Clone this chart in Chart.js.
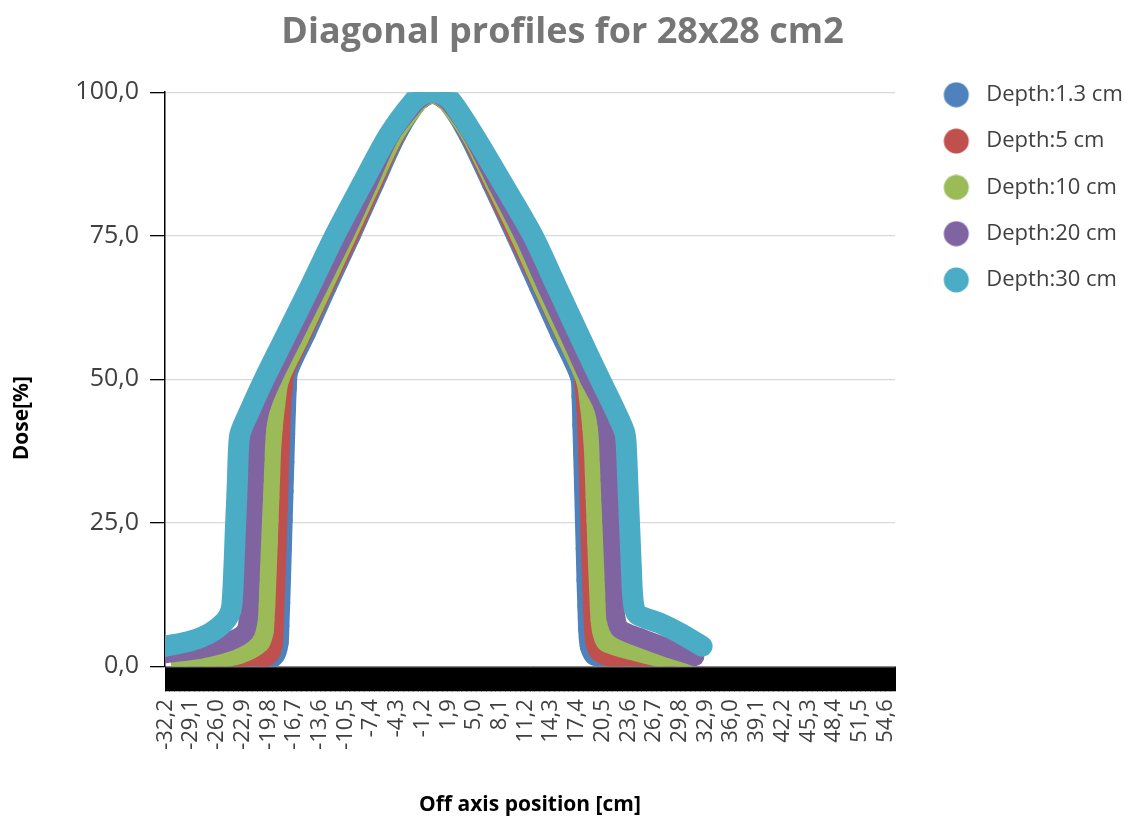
<!DOCTYPE html>
<html>
<head>
<meta charset="utf-8">
<title>Diagonal profiles for 28x28 cm2</title>
<script src="https://cdn.jsdelivr.net/npm/chart.js@4.4.1/dist/chart.umd.min.js"></script>
<style>
html, body { margin: 0; padding: 0; background: #ffffff; }
#wrap { position: relative; width: 1125px; height: 816px; }
</style>
</head>
<body>
<div id="wrap"><canvas id="chart" width="1125" height="816"></canvas></div>
<script>
// ---- Category axis: off-axis positions, -32.2 cm ... 55.7 cm in 0.1 cm steps
const firstTenth = -322;
const lastTenth = 557;
const tickLabelEvery = 31;           // one visible label every 3.1 cm
const doseTicks = [0, 25, 50, 75, 100];

// ---- Series (position in cm, dose in %)
const depth13X = [-22.8, -20.0, -18.9, -18.5, -18.4, -18.3, -18.2, -18.1, -18.0, -17.9, -17.8, -17.7, -17.6, -17.5, -17.3, -15.2, -12.7, -9.8, -7.0, -4.3, -2.2, -1.1, 0.0, 1.1, 2.2, 4.3, 7.1, 10.0, 12.8, 15.3, 17.7, 17.9, 18.0, 18.1, 18.2, 18.3, 18.4, 18.5, 18.6, 18.7, 18.9, 19.5, 22.5, 25.6];
const depth13Dose = [0.3, 0.8, 2.0, 4.0, 7.0, 11.0, 15.5, 20.5, 25.5, 30.5, 35.5, 40.5, 45.0, 48.5, 51.5, 58.0, 66.0, 75.0, 84.0, 92.5, 97.5, 99.0, 99.6, 99.0, 97.5, 92.5, 84.0, 75.0, 66.0, 58.0, 50.5, 47.0, 42.0, 37.0, 31.5, 26.0, 20.5, 15.0, 10.5, 6.5, 3.5, 1.8, 0.9, 0.4];

const depth5X = [-26.8, -23.2, -20.5, -19.6, -19.2, -19.1, -19.0, -18.9, -18.8, -18.7, -18.6, -18.5, -18.4, -18.3, -18.2, -18.0, -17.7, -15.6, -13.0, -10.0, -7.2, -4.5, -2.3, -1.1, 0.0, 1.1, 2.3, 4.5, 7.3, 10.2, 13.2, 15.8, 18.0, 18.3, 18.5, 18.6, 18.7, 18.8, 18.9, 19.0, 19.1, 19.2, 19.3, 19.4, 19.6, 20.2, 22.0, 25.0, 28.0];
const depth5Dose = [0.3, 0.7, 1.3, 2.2, 3.8, 6.5, 10.0, 14.0, 18.5, 23.0, 27.5, 32.0, 36.5, 41.0, 45.0, 48.5, 51.5, 58.0, 66.0, 75.0, 84.0, 92.5, 97.4, 99.1, 99.7, 99.1, 97.4, 92.5, 84.0, 75.0, 66.0, 58.0, 51.5, 48.5, 45.0, 41.0, 36.5, 32.0, 27.5, 23.0, 18.5, 14.0, 10.0, 6.5, 4.0, 2.3, 1.3, 0.8, 0.4];

const depth10X = [-30.4, -26.8, -23.2, -20.8, -20.3, -20.2, -20.1, -20.0, -19.9, -19.8, -19.7, -19.6, -19.5, -19.4, -19.2, -18.9, -18.4, -16.1, -13.2, -10.3, -7.4, -4.6, -2.3, -1.1, 0.0, 1.1, 2.3, 4.6, 7.5, 10.5, 13.3, 16.2, 18.4, 18.9, 19.2, 19.4, 19.5, 19.6, 19.7, 19.8, 19.9, 20.0, 20.1, 20.2, 20.4, 20.9, 23.8, 27.4, 30.4];
const depth10Dose = [0.6, 1.1, 2.1, 4.0, 6.0, 8.0, 10.5, 14.0, 17.5, 21.5, 25.5, 29.5, 33.5, 37.5, 41.5, 45.5, 50.0, 57.0, 66.0, 75.0, 84.0, 92.5, 97.3, 99.1, 99.7, 99.1, 97.3, 92.5, 84.0, 75.0, 66.0, 57.0, 50.0, 45.5, 41.5, 37.5, 33.5, 29.5, 25.5, 21.5, 17.5, 14.0, 10.5, 8.0, 6.0, 4.2, 2.8, 1.5, 0.8];

const depth20X = [-32.2, -28.0, -24.4, -22.6, -22.2, -22.1, -22.0, -21.9, -21.8, -21.7, -21.6, -21.5, -21.4, -21.3, -21.1, -20.6, -19.3, -16.9, -13.8, -10.7, -7.8, -5.1, -2.4, -1.2, 0.0, 1.2, 2.4, 4.8, 7.8, 11.0, 13.8, 16.7, 18.9, 20.5, 21.0, 21.2, 21.3, 21.4, 21.5, 21.6, 21.7, 21.8, 21.9, 22.0, 22.1, 22.6, 25.0, 28.6, 31.6];
const depth20Dose = [2.2, 3.0, 4.4, 6.0, 8.5, 11.5, 15.0, 18.5, 22.0, 25.5, 29.0, 32.5, 36.0, 39.5, 42.5, 45.5, 50.0, 57.0, 66.0, 75.0, 84.0, 92.5, 97.6, 99.2, 99.8, 99.2, 97.6, 92.5, 84.0, 75.0, 66.0, 57.0, 50.0, 45.5, 42.5, 39.5, 36.0, 32.5, 29.0, 25.5, 22.0, 18.5, 15.0, 11.5, 8.5, 6.5, 5.0, 3.1, 1.7];

const depth30X = [-32.2, -29.2, -26.8, -25.0, -24.3, -24.1, -24.0, -23.9, -23.8, -23.7, -23.6, -23.5, -23.4, -23.2, -22.2, -20.3, -17.9, -14.8, -11.8, -8.5, -5.3, -2.3, -1.2, 0.0, 1.2, 2.3, 5.0, 8.5, 12.1, 15.0, 17.9, 20.2, 22.2, 23.2, 23.4, 23.5, 23.6, 23.7, 23.8, 23.9, 24.0, 24.1, 24.3, 24.7, 27.4, 29.8, 32.5];
const depth30Dose = [3.5, 4.4, 5.8, 7.9, 9.8, 12.5, 15.4, 18.7, 22.7, 26.1, 29.4, 33.4, 37.5, 40.5, 44.0, 50.0, 57.0, 66.0, 75.0, 84.0, 92.5, 98.4, 99.6, 100.0, 99.6, 98.4, 92.5, 84.0, 75.0, 66.0, 57.0, 50.0, 44.0, 40.5, 37.0, 33.5, 30.0, 26.5, 23.0, 19.5, 16.0, 12.8, 10.3, 9.0, 7.5, 5.8, 3.5];

const seriesLabels = ['Depth:1.3 cm', 'Depth:5 cm', 'Depth:10 cm', 'Depth:20 cm', 'Depth:30 cm'];
const seriesX = [depth13X, depth5X, depth10X, depth20X, depth30X];
const seriesDose = [depth13Dose, depth5Dose, depth10Dose, depth20Dose, depth30Dose];
const seriesColors = ['#4F81BD', '#C0504D', '#9BBB59', '#8064A2', '#4BACC6'];

// ---- helpers
function cmLabel(v) {
  return (Math.round(v * 10) / 10).toFixed(1).replace('.', ',');
}
const categories = [];
for (let n = firstTenth; n <= lastTenth; n++) categories.push(cmLabel(n / 10));

function legendDot(color) {
  const c = document.createElement('canvas');
  c.width = 56; c.height = 26;
  const g = c.getContext('2d');
  g.fillStyle = color;
  g.beginPath();
  g.arc(37, 13, 12.5, 0, Math.PI * 2);
  g.fill();
  return c;
}
const legendDots = seriesColors.map(legendDot);

const FONT = '"Open Sans", "Noto Sans", sans-serif';

const datasets = seriesLabels.map((label, i) => ({
  label: label,
  data: seriesX[i].map((x, k) => ({ x: cmLabel(x), y: seriesDose[i][k] })),
  borderColor: seriesColors[i],
  backgroundColor: seriesColors[i],
  pointBackgroundColor: seriesColors[i],
  borderWidth: i === 4 ? 21 : 19,
  pointRadius: 9.5,
  pointHoverRadius: 9.5,
  pointBorderWidth: 0,
  borderCapStyle: 'round',
  borderJoinStyle: 'round',
  tension: 0.3,
  fill: false,
  clip: 0,
  order: seriesLabels.length - 1 - i
}));

const yTitlePlugin = {
  id: 'yTitle',
  afterDraw(chart) {
    const { ctx, chartArea } = chart;
    ctx.save();
    ctx.translate(22, (chartArea.top + chartArea.bottom) / 2 + 39);
    ctx.rotate(-Math.PI / 2);
    ctx.font = 'bold 21px ' + FONT;
    ctx.fillStyle = '#000000';
    ctx.textAlign = 'center';
    ctx.textBaseline = 'middle';
    ctx.fillText('Dose[%]', 0, 0);
    ctx.restore();
  }
};

new Chart(document.getElementById('chart'), {
  type: 'line',
  data: { labels: categories, datasets: datasets },
  plugins: [yTitlePlugin],
  options: {
    responsive: false,
    animation: false,
    events: [],
    layout: { padding: { left: 0, right: 0, top: 0, bottom: 0 } },
    plugins: {
      title: {
        display: true,
        text: 'Diagonal profiles for 28x28 cm2',
        color: '#767676',
        font: { family: FONT, size: 36, weight: 'bold', lineHeight: 1.2 },
        padding: { top: 11, bottom: 38 }
      },
      legend: {
        display: true,
        position: 'right',
        align: 'start',
        maxWidth: 230,
        title: { display: true, text: '', font: { size: 10, lineHeight: 1 }, padding: { top: 49.5, bottom: 0 } },
        labels: {
          usePointStyle: true,
          pointStyleWidth: 56,
          padding: 24.3,
          color: '#404040',
          font: { family: FONT, size: 22 },
          sort: (a, b) => a.datasetIndex - b.datasetIndex,
          generateLabels(chart) {
            const items = Chart.defaults.plugins.legend.labels.generateLabels(chart);
            items.forEach(it => { it.pointStyle = legendDots[it.datasetIndex]; });
            return items;
          }
        }
      },
      tooltip: { enabled: false }
    },
    scales: {
      x: {
        type: 'category',
        offset: true,
        grid: {
          display: true,
          offset: true,
          drawOnChartArea: false,
          drawTicks: true,
          tickLength: 25,
          tickColor: '#000000',
          tickWidth: 1
        },
        border: { display: true, color: '#868686', width: 1 },
        ticks: {
          autoSkip: false,
          minRotation: 90,
          maxRotation: 90,
          padding: 8,
          color: '#404040',
          font: { family: FONT, size: 22 },
          callback: function (value, index) {
            return index % tickLabelEvery === 0 ? this.getLabelForValue(value) : '';
          }
        },
        title: {
          display: true,
          text: 'Off axis position [cm]',
          color: '#000000',
          font: { family: FONT, size: 21, weight: 'bold' },
          padding: { top: 35, bottom: -2 }
        }
      },
      y: {
        min: 0,
        max: 100,
        afterBuildTicks(scale) { scale.ticks = doseTicks.map(v => ({ value: v })); },
        afterFit(scale) { scale.width = 165; },
        grid: {
          color: '#d9d9d9',
          lineWidth: 1.3,
          tickColor: '#000000',
          tickLength: 15,
          drawTicks: true
        },
        border: { display: true, color: '#000000', width: 1.5 },
        ticks: {
          padding: 11,
          color: '#404040',
          font: { family: FONT, size: 25 },
          callback: v => v.toFixed(1).replace('.', ',')
        }
      }
    }
  }
});
</script>
</body>
</html>
